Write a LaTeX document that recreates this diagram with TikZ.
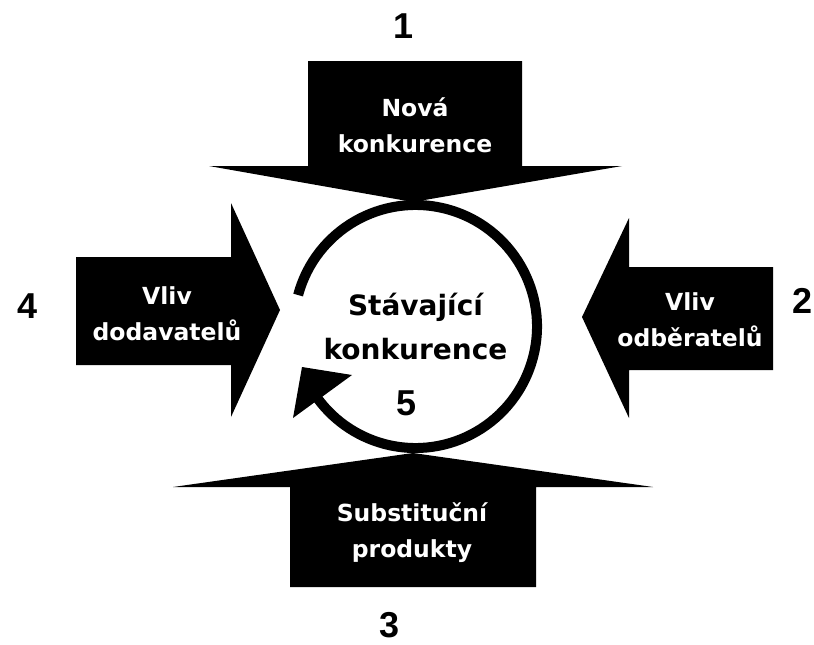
\documentclass[tikz,border=0pt]{standalone}
\usepackage{fontspec}
\newfontfamily\lblfont{DejaVu Sans}
\newfontfamily\numfont{Liberation Sans}
\usetikzlibrary{calc}

\begin{document}
\begin{tikzpicture}[x=1pt,y=1pt,
        boxtext/.style={text=white,align=center,font=\lblfont\bfseries\fontsize{23.5}{36}\selectfont},
        numtext/.style={inner sep=0pt,font=\numfont\bfseries\fontsize{36}{36}\selectfont}]
    \useasboundingbox (0,0) rectangle (814,-645);
    \fill
    (308,-61) -- (522,-61) -- (522,-166) -- (622,-166) -- (413,-202) -- (209,-166) -- (308,-166) -- cycle
    (76,-257) -- (231,-257) -- (231,-203) -- (280,-310) -- (231,-417) -- (231,-365) -- (76,-365) -- cycle
    (773,-267) -- (629,-267) -- (629,-218) -- (582,-317) -- (629,-418) -- (629,-370) -- (773,-370) -- cycle
    (290,-587) -- (290,-487) -- (173,-487) -- (413,-453) -- (653,-487) -- (536,-487) -- (536,-587) -- cycle
    ;
    \coordinate (c) at (415.5,-326.5);
    \draw[line width=10pt] ($(c)+(165:121.5)$) arc[start angle=165,end angle=-146,radius=121.5];
    \fill (293,-418) -- (302,-367) -- (352,-375) -- cycle;
    \node[boxtext] (nova) at (415,-125) {Nová\\konkurence};
    \node[boxtext] (dod) at (167,-314) {Vliv\\dodavatelů};
    \node[boxtext] (odb) at (690,-320) {Vliv\\odběratelů};
    \node[boxtext] (subst) at (412,-533) {Substituční\\produkty};
    \node[align=center,font=\lblfont\bfseries\fontsize{28}{44}\selectfont] (stav) at (c) {Stávající\\konkurence};
    \node[numtext] (n1) at (404,-26) {1};
    \node[numtext] (n2) at (803,-301) {2};
    \node[numtext] (n3) at (390,-625) {3};
    \node[numtext] (n4) at (28,-306) {4};
    \node[numtext] (n5) at (407,-403) {5};
\end{tikzpicture}
\end{document}
